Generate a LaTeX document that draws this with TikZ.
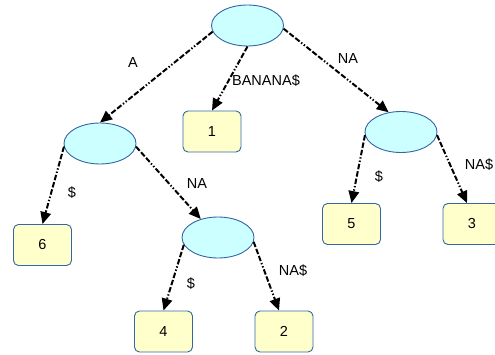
\documentclass[tikz,border=0pt]{standalone}
\usepackage{tikz}
\usepackage{fontspec}
\setmainfont{Liberation Sans}
\usetikzlibrary{shapes.geometric,arrows.meta}

\definecolor{bordbleu}{HTML}{3465A4}
\definecolor{fondcyan}{HTML}{CCFFFF}
\definecolor{fondjaune}{HTML}{FFFFCC}

\begin{document}
\begin{tikzpicture}[x=1pt, y=1pt,
	noeud/.style={ellipse, draw=bordbleu, fill=fondcyan, line width=0.9pt, minimum width=72pt, minimum height=41pt, inner sep=0pt},
	feuille/.style={rectangle, rounded corners=5pt, draw=bordbleu, fill=fondjaune, line width=0.9pt, minimum width=58pt, minimum height=41pt, font=\fontsize{14.5}{17}\selectfont},
	arete/.style={line width=2pt, dash pattern=on 5.5pt off 2pt on 5.5pt off 2pt on 5.5pt off 2pt on 1.4pt off 2pt on 1.4pt off 2pt, -{Triangle[length=12pt, width=10.5pt]}},
	etiq/.style={font=\fontsize{14.5}{17}\selectfont, inner sep=1pt}]
	\useasboundingbox (0, 0) rectangle (495, 354);
	% Noeuds internes
	\node[noeud] (racine) at (247.5, 328.5) {};
	\node[noeud] (nA) at (100, 210.5) {};
	\node[noeud] (nNA) at (401, 222) {};
	\node[noeud] (nANA) at (218, 116.5) {};
	% Feuilles
	\node[feuille] (f1) at (212, 222.5) {1};
	\node[feuille] (f6) at (42.5, 109) {6};
	\node[feuille] (f4) at (163.5, 22.5) {4};
	\node[feuille] (f2) at (284, 22.5) {2};
	\node[feuille] (f5) at (351.5, 130) {5};
	\node[feuille] (f3) at (472, 130) {3};
	% Aretes
	\draw[arete] (racine.190) -- (nA.north);
	\draw[arete] (racine.south) -- (f1.north);
	\draw[arete] (racine.355) -- (nNA.122);
	\draw[arete] (nA.185) -- (f6.north);
	\draw[arete] (nA.355) -- (nANA.133);
	\draw[arete] (nANA.192) -- (f4.north);
	\draw[arete] (nANA.353) -- ([xshift=-5pt]f2.north);
	\draw[arete] (nNA.185) -- (f5.north);
	\draw[arete] (nNA.355) -- ([xshift=-5pt]f3.north);
	% Etiquettes
	\node[etiq] (eA) at (133, 291) {A};
	\node[etiq] (eBANANA) at (266, 273) {BANANA\$};
	\node[etiq] (eNA) at (348, 295) {NA};
	\node[etiq] (eDol1) at (72, 161) {\$};
	\node[etiq] (eNA2) at (197, 170) {NA};
	\node[etiq] (eDol2) at (191, 70) {\$};
	\node[etiq] (eNAD1) at (293, 83) {NA\$};
	\node[etiq] (eDol3) at (379, 177) {\$};
	\node[etiq] (eNAD2) at (479, 189) {NA\$};
\end{tikzpicture}
\end{document}
